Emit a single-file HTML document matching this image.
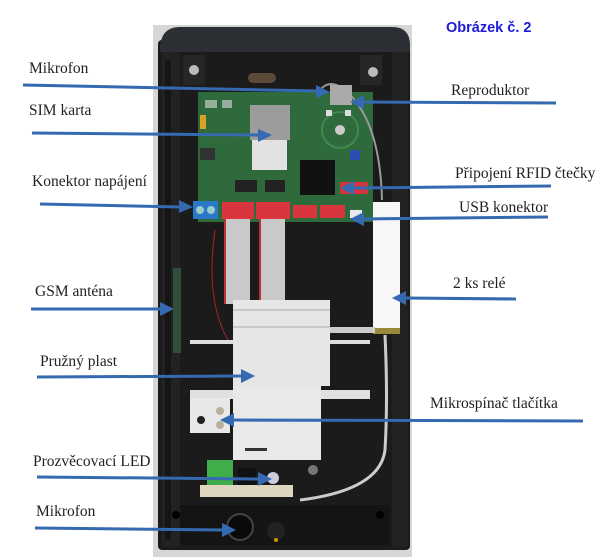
<!DOCTYPE html>
<html><head><meta charset="utf-8"><style>
html,body{margin:0;padding:0;background:#fff;}
svg{display:block}
.t{font-family:"Liberation Serif",serif;font-size:15.5px;fill:#222}
</style></head><body>
<svg width="610" height="557" viewBox="0 0 610 557" xmlns="http://www.w3.org/2000/svg">
<rect width="610" height="557" fill="#fff"/>
<rect x="153" y="25" width="259" height="532" fill="#d6d6d6"/>
<rect x="158" y="40" width="252" height="510" rx="4" fill="#1b1b1c"/>
<path d="M160 50 Q160 27 180 27 L392 27 Q410 27 410 45 L410 52 L160 52 Z" fill="#2c2f33"/>
<rect x="162" y="52" width="18" height="495" fill="#222"/>
<rect x="392" y="52" width="16" height="495" fill="#222"/>
<rect x="165" y="60" width="6" height="480" fill="#151515"/>
<rect x="183" y="55" width="22" height="30" fill="#262626"/>
<rect x="360" y="55" width="22" height="30" fill="#262626"/>
<circle cx="194" cy="70" r="5" fill="#bbb"/>
<circle cx="373" cy="72" r="5" fill="#bbb"/>
<rect x="248" y="73" width="28" height="10" rx="5" fill="#5a4a3a"/>
<rect x="198" y="92" width="175" height="130" fill="#2f6a3d"/>
<rect x="205" y="100" width="12" height="8" fill="#ddd" opacity=".6"/>
<rect x="222" y="100" width="10" height="8" fill="#ddd" opacity=".6"/>
<rect x="200" y="115" width="6" height="14" fill="#d9a227"/>
<rect x="250" y="105" width="40" height="35" fill="#9c9c9c"/>
<rect x="252" y="140" width="35" height="30" fill="#e2e2e2"/>
<circle cx="340" cy="130" r="18" fill="none" stroke="#3f8a4d" stroke-width="2"/>
<circle cx="340" cy="130" r="5" fill="#ccc"/>
<rect x="326" y="110" width="6" height="6" fill="#ddd"/><rect x="345" y="110" width="6" height="6" fill="#ddd"/>
<rect x="300" y="160" width="35" height="35" fill="#111"/>
<rect x="200" y="148" width="15" height="12" fill="#333"/>
<rect x="235" y="180" width="22" height="12" fill="#222"/>
<rect x="265" y="180" width="20" height="12" fill="#222"/>
<rect x="350" y="150" width="10" height="10" fill="#2a4fb0"/>
<rect x="340" y="182" width="28" height="12" fill="#d3343f"/>
<rect x="193" y="201" width="25" height="18" fill="#2a78c8"/>
<circle cx="200" cy="210" r="4" fill="#9cc"/><circle cx="211" cy="210" r="4" fill="#9cc"/>
<rect x="222" y="202" width="32" height="17" fill="#d9353f"/>
<rect x="256" y="202" width="34" height="17" fill="#d9353f"/>
<rect x="293" y="205" width="24" height="13" fill="#d9353f"/>
<rect x="320" y="205" width="25" height="13" fill="#d9353f"/>
<rect x="350" y="210" width="12" height="8" fill="#e8e8f0"/>
<rect x="225" y="219" width="25" height="85" fill="#c9c9c9"/>
<rect x="260" y="219" width="25" height="85" fill="#c9c9c9"/>
<line x1="225" y1="219" x2="225" y2="304" stroke="#b33" stroke-width="2"/>
<line x1="260" y1="219" x2="260" y2="304" stroke="#b33" stroke-width="2"/>
<path d="M215 230 Q205 300 228 340" fill="none" stroke="#a22" stroke-width="1"/>
<rect x="173" y="268" width="8" height="85" fill="#2f4f3a"/>
<rect x="373" y="202" width="27" height="128" fill="#f7f7f7"/>
<rect x="373" y="328" width="27" height="6" fill="#9a8a3a"/>
<path d="M320 90 Q330 78 345 90 Q380 120 382 200" fill="none" stroke="#999" stroke-width="2"/>
<path d="M385 335 Q388 400 385 450 Q380 490 300 500" fill="none" stroke="#ccc" stroke-width="3"/>
<path d="M330 330 L375 330" stroke="#ccc" stroke-width="6"/>
<rect x="330" y="85" width="22" height="20" fill="#aaa"/>
<rect x="190" y="340" width="180" height="4" fill="#ddd"/>
<rect x="233" y="300" width="97" height="86" fill="#e6e6e6"/>
<line x1="233" y1="310" x2="330" y2="310" stroke="#c8c8c8" stroke-width="2"/>
<line x1="233" y1="327" x2="330" y2="327" stroke="#c8c8c8" stroke-width="2"/>
<rect x="190" y="390" width="180" height="9" fill="#e0e0e0"/>
<rect x="233" y="386" width="88" height="74" fill="#e9e9e9"/>
<rect x="245" y="448" width="22" height="3" fill="#333"/>
<rect x="190" y="398" width="40" height="35" fill="#e8e8e8"/>
<circle cx="201" cy="420" r="4" fill="#222"/>
<circle cx="220" cy="411" r="4" fill="#b8b09a"/><circle cx="220" cy="425" r="4" fill="#b8b09a"/>
<rect x="207" y="460" width="26" height="28" fill="#3fae4a"/>
<rect x="238" y="468" width="18" height="18" fill="#111"/>
<rect x="200" y="485" width="93" height="12" fill="#e0d6bf"/>
<circle cx="273" cy="478" r="6" fill="#ccd"/>
<circle cx="313" cy="470" r="5" fill="#777"/>
<rect x="180" y="505" width="210" height="40" fill="#141414"/>
<circle cx="240" cy="527" r="13" fill="#0a0a0a" stroke="#444" stroke-width="2"/>
<circle cx="276" cy="531" r="9" fill="#222"/>
<circle cx="276" cy="540" r="2" fill="#c90"/>
<circle cx="176" cy="515" r="4" fill="#000"/><circle cx="380" cy="515" r="4" fill="#000"/>

<g stroke="#3569b0" stroke-width="3" fill="none">
<line x1="23" y1="85" x2="318" y2="91"/>
<line x1="32" y1="133" x2="260" y2="135"/>
<line x1="40" y1="204" x2="182" y2="207"/>
<line x1="31" y1="309" x2="162" y2="309"/>
<line x1="37" y1="377" x2="243" y2="376"/>
<line x1="37" y1="477" x2="260" y2="479"/>
<line x1="35" y1="528" x2="224" y2="530"/>
<line x1="556" y1="103" x2="362" y2="102"/>
<line x1="551" y1="186" x2="352" y2="188"/>
<line x1="548" y1="217" x2="362" y2="219"/>
<line x1="516" y1="299" x2="404" y2="298"/>
<line x1="583" y1="421" x2="232" y2="420"/>
</g>
<g fill="#3569b0">
<polygon points="330,92 316,85 316,98"/>
<polygon points="272,135 258,129 258,142"/>
<polygon points="193,207 179,200 179,213"/>
<polygon points="174,309 160,302 160,316"/>
<polygon points="255,376 241,369 241,383"/>
<polygon points="272,479 258,472 258,486"/>
<polygon points="236,530 222,523 222,537"/>
<polygon points="350,102 364,95 364,109"/>
<polygon points="340,188 354,181 354,195"/>
<polygon points="350,219 364,212 364,226"/>
<polygon points="392,298 406,291 406,305"/>
<polygon points="220,420 234,413 234,427"/>
</g>

<text x="29" y="73" class="t">Mikrofon</text>
<text x="29" y="115" class="t">SIM karta</text>
<text x="32" y="186" class="t">Konektor napájení</text>
<text x="35" y="296" class="t">GSM anténa</text>
<text x="40" y="366" class="t">Pružný plast</text>
<text x="33" y="466" class="t">Prozvěcovací LED</text>
<text x="36" y="516" class="t">Mikrofon</text>
<text x="451" y="95" class="t">Reproduktor</text>
<text x="455" y="178" class="t">Připojení RFID čtečky</text>
<text x="459" y="212" class="t">USB konektor</text>
<text x="453" y="288" class="t">2 ks relé</text>
<text x="430" y="408" class="t">Mikrospínač tlačítka</text>
<text x="446" y="32" font-family="Liberation Sans, sans-serif" font-size="14.5" font-weight="bold" fill="#1b1bd6">Obrázek č. 2</text>
</svg>
</body></html>
